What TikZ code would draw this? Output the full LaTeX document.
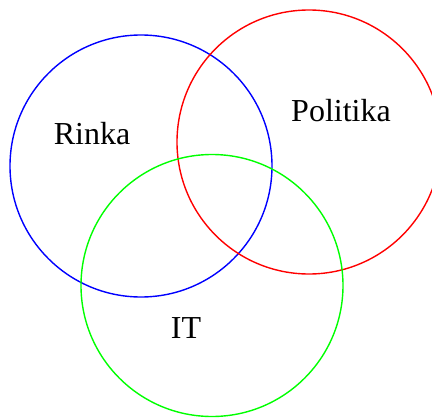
\documentclass[tikz,border=0pt]{standalone}
\usepackage{fontspec}
\setmainfont{Liberation Serif}
\usetikzlibrary{positioning}
\definecolor{setblue}{RGB}{0,0,255}
\definecolor{setred}{RGB}{255,0,0}
\definecolor{setgreen}{RGB}{0,255,0}
\tikzset{
    setcircle/.style={circle, draw=#1, line width=1.4pt, minimum size=262pt, inner sep=0pt},
    setlabel/.style={font=\fontsize{32}{36}\selectfont, inner sep=0pt}
}

\begin{document}
\begin{tikzpicture}[x=1pt, y=-1pt]
        % Canvas
        \useasboundingbox (0, 0) rectangle (432, 418);
        \clip (0, 0) rectangle (432, 418);

        % Sets
        \node[setcircle=setblue] (rinka) at (141, 166) {};
        \node[setcircle=setred, minimum size=264pt] (politika) at (309, 142) {};
        \node[setcircle=setgreen] (it) at (212, 285.5) {};

        % Set names
        \node[setlabel] (rinkalbl) at (92, 134) {Rinka};
        \node[setlabel] (politikalbl) at (341, 111) {Politika};
        \node[setlabel] (itlbl) at (186, 328) {IT};
    \end{tikzpicture}
\end{document}
